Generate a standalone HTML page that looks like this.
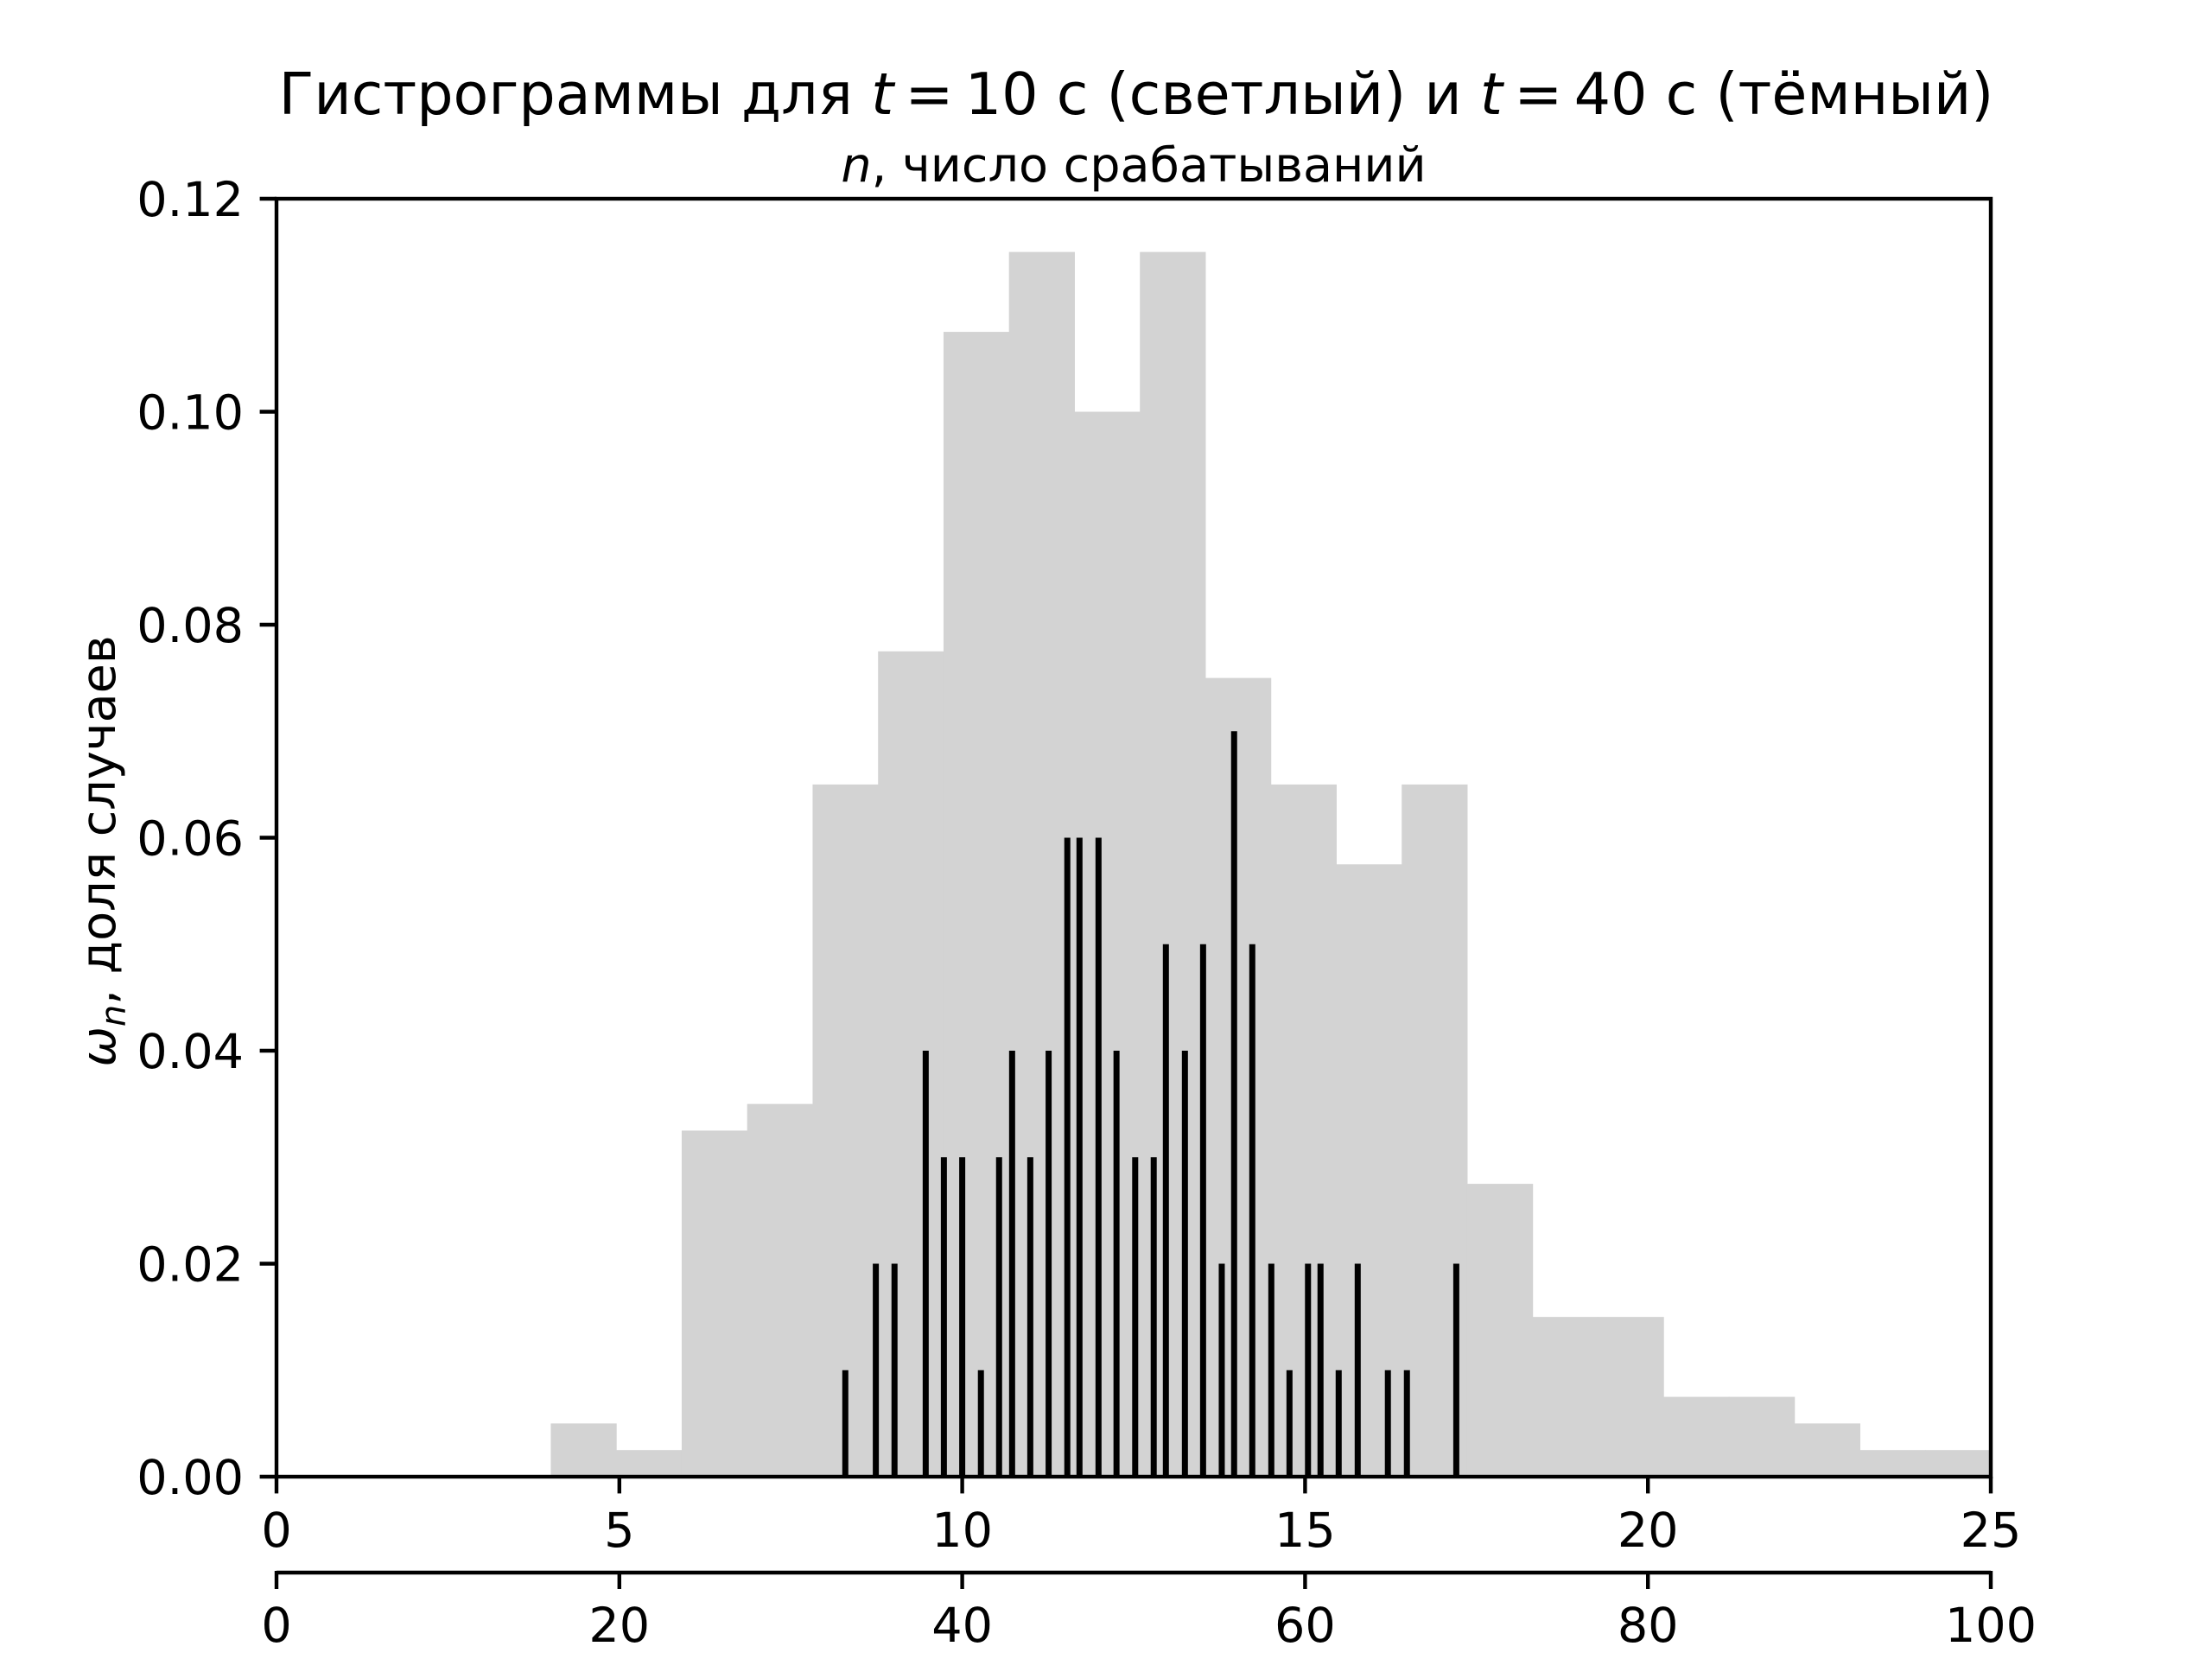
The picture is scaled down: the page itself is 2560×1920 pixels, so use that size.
<!DOCTYPE html>
<html><head><meta charset="utf-8"><style>
html,body{margin:0;padding:0;background:#fff}
svg{display:block}
text{font-family:"DejaVu Sans","Liberation Sans",sans-serif;fill:#000}
</style></head>
<body>
<svg id="chart" width="2560" height="1920" viewBox="0 0 2560 1920" xmlns="http://www.w3.org/2000/svg">
<rect width="2560" height="1920" fill="#fff"/>
<text x="1315" y="132" font-size="66.7" text-anchor="middle">Гистрограммы для <tspan font-style="italic">t</tspan>&#8201;=&#8201;10 с (светлый) и <tspan font-style="italic">t</tspan>&#8201;=&#8201;40 с (тёмный)</text>
<text x="1312" y="210" font-size="55.6" text-anchor="middle"><tspan font-style="italic">n</tspan>, число срабатываний</text>
<text transform="translate(133,985) rotate(-90)" font-size="55.6" text-anchor="middle"><tspan font-style="italic">ω</tspan><tspan font-style="italic" font-size="40" dy="12">n</tspan><tspan dy="-12">, доля случаев</tspan></text>
<g id="bars"></g>
<g id="lines"></g>
<g id="axes"></g>
</svg>
<script>
const lightStart = 4;
const lightBinWidth = 21/22;
const lightValues = [0.005,0.0025,0.0325,0.035,0.065,0.0775,0.1075,0.115,0.1,0.115,0.075,0.065,0.0575,0.065,0.0275,0.015,0.015,0.0075,0.0075,0.005,0.0025,0.0025];
const darkPositions = [33.18,34.96,36.05,37.87,38.93,40.0,41.09,42.15,42.91,43.97,45.04,46.13,46.84,47.95,49.0,50.09,51.17,51.88,52.99,54.05,55.14,55.86,56.92,58.03,59.09,60.17,60.9,61.96,63.07,64.83,65.94,68.82];
const darkValues = [0.01,0.02,0.02,0.04,0.03,0.03,0.01,0.03,0.04,0.03,0.04,0.06,0.06,0.06,0.04,0.03,0.03,0.05,0.04,0.05,0.02,0.07,0.05,0.02,0.01,0.02,0.02,0.01,0.02,0.01,0.01,0.02];
const yTicks = [0,0.02,0.04,0.06,0.08,0.10,0.12];
const yTickLabels = ["0.00","0.02","0.04","0.06","0.08","0.10","0.12"];
const xTicks = [0,5,10,15,20,25];
const x2Ticks = [0,20,40,60,80,100];

const L=320,R=2304,T=230,B=1709;
const xs = v => L + (R-L)*v/25;
const x2s = v => L + (R-L)*v/100;
const ys = v => B - (B-T)*v/0.12;
const NS="http://www.w3.org/2000/svg";
function mk(tag, attrs, parent){const e=document.createElementNS(NS,tag);for(const k in attrs)e.setAttribute(k,attrs[k]);parent.appendChild(e);return e;}
const bars=document.getElementById('bars'), lines=document.getElementById('lines'), axes=document.getElementById('axes');
lightValues.forEach((v,i)=>{
  const x0=xs(lightStart+i*lightBinWidth), x1=xs(lightStart+(i+1)*lightBinWidth);
  const r=mk('rect',{x:x0,y:ys(v),width:x1-x0+0.5,height:B-ys(v),fill:'#d3d3d3'},bars);
  
  
});
darkPositions.forEach((p,i)=>{
  const x=x2s(p);
  const r=mk('rect',{x:x-3.5,y:ys(darkValues[i]),width:7,height:B-ys(darkValues[i]),fill:'#000'},lines);
  
  
});
const f=mk('rect',{x:L,y:T,width:R-L,height:B-T,fill:'none',stroke:'#000','stroke-width':4.4},axes);


yTicks.forEach((v,i)=>{
  const y=ys(v);
  const t=mk('line',{x1:L-19.4,x2:L,y1:y,y2:y,stroke:'#000','stroke-width':4.4},axes);
  
  
  const l=mk('text',{x:L-38,y:y+20,'font-size':55.6,'text-anchor':'end'},axes);
  l.textContent=yTickLabels[i];
  
  
});
xTicks.forEach(v=>{
  const x=xs(v);
  const t=mk('line',{x1:x,x2:x,y1:B,y2:B+19.4,stroke:'#000','stroke-width':4.4},axes);
  
  
  const l=mk('text',{x:x,y:1790,'font-size':55.6,'text-anchor':'middle'},axes);
  l.textContent=String(v);
  
  
});
const s2=mk('line',{x1:L,x2:R,y1:1820,y2:1820,stroke:'#000','stroke-width':4.4},axes);


x2Ticks.forEach(v=>{
  const x=x2s(v);
  const t=mk('line',{x1:x,x2:x,y1:1818,y2:1839,stroke:'#000','stroke-width':4.4},axes);
  
  
  const l=mk('text',{x:x,y:1900,'font-size':55.6,'text-anchor':'middle'},axes);
  l.textContent=String(v);
  
  
});
</script>
</body></html>
